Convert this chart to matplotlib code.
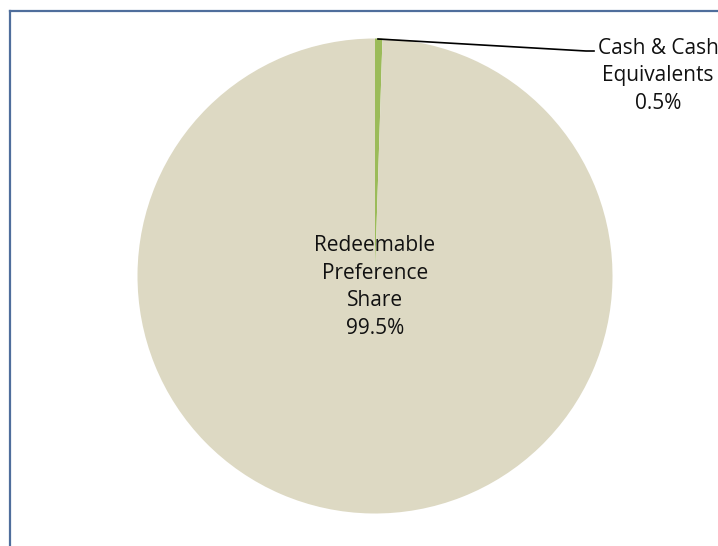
import matplotlib.pyplot as plt

# pie data
labels = ['Cash & Cash\nEquivalents', 'Redeemable\nPreference\nShare']
shares = [0.5, 99.5]
colors = ['#9BBB59', '#DDD9C3']

W, H = 718, 546
fig = plt.figure(figsize=(W / 100, H / 100), dpi=100)
ax = fig.add_axes([0, 0, 1, 1])

# pie drawn in pixel coordinates (y flipped -> clockwise needs counterclock=True)
cx, cy, r = 375, 276, 237.5
ax.pie(shares, colors=colors, startangle=-90, counterclock=True,
       center=(cx, cy), radius=r, frame=True,
       wedgeprops=dict(linewidth=0.4, edgecolor=None))
ax.set_xlim(0, W)
ax.set_ylim(H, 0)
ax.axis('off')
ax.set_aspect('auto')

font = 'Open Sans'
ax.text(cx, 287, f'{labels[1]}\n{shares[1]}%', ha='center', va='center',
        fontsize=15, family=font, color='#111111', linespacing=1.4)
ax.text(658, 76, f'{labels[0]}\n{shares[0]}%', ha='center', va='center',
        fontsize=15, family=font, color='#111111', linespacing=1.4)

# leader line
ax.plot([378, 586, 594], [39, 51, 51], color='black', lw=1.2)

# chart border (right and bottom are cut off)
ax.plot([9.5, 9.5], [H + 5, 10.5], color='#4F6E9C', lw=1.6)
ax.plot([9.5, W + 5], [10.5, 10.5], color='#4F6E9C', lw=1.6)

fig.savefig('out.png', dpi=100)
